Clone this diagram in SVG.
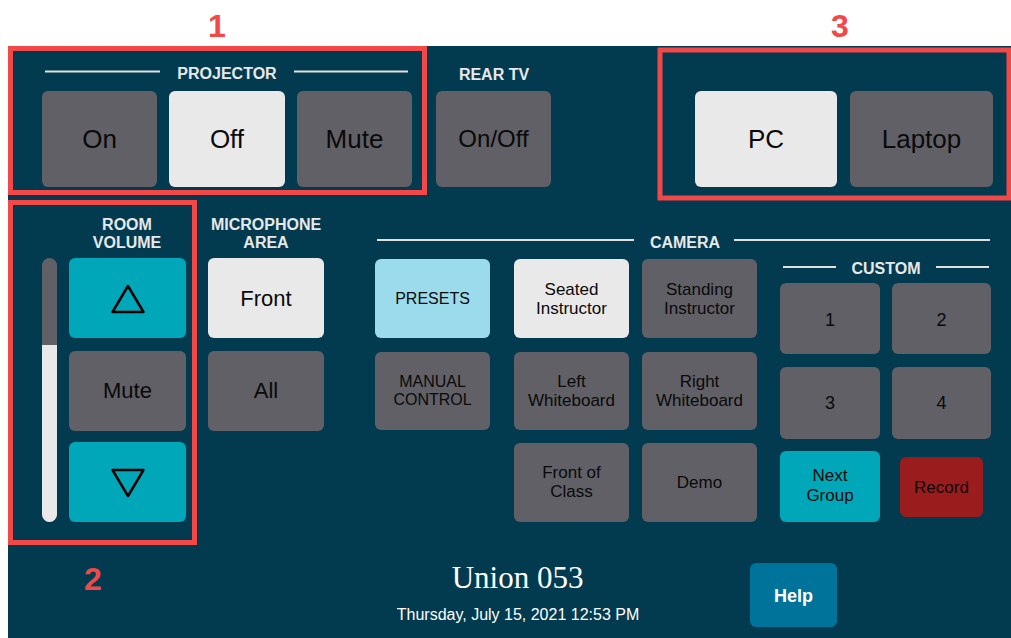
<svg xmlns="http://www.w3.org/2000/svg" width="1011" height="638" viewBox="0 0 1011 638">
<style>
.btn{fill:#606066}
.lt{fill:#e9e9e9}
.teal{fill:#00a7b8}
.hd{font-family:"Liberation Sans",Arial,sans-serif;font-weight:bold;font-size:16px;fill:#e8e8e8;text-anchor:middle}
.bt{font-family:"Liberation Sans",Arial,sans-serif;fill:#0a0a0a;text-anchor:middle}
.rule{stroke:#e0e0e0;stroke-width:2}
.red{fill:none;stroke:#f24848;stroke-width:5}
.num{font-family:"Liberation Sans",Arial,sans-serif;font-weight:bold;font-size:32px;fill:#f24848;text-anchor:middle}
.tri{fill:none;stroke:#000;stroke-width:2.5;stroke-linejoin:round}
</style>
<rect x="0" y="0" width="1011" height="638" fill="#ffffff"/>
<rect x="8" y="46" width="1003" height="592" fill="#023b50"/>

<g id="projector">
<line class="rule" x1="45" y1="71.5" x2="160" y2="71.5"/>
<line class="rule" x1="294" y1="71.5" x2="408" y2="71.5"/>
<text class="hd" x="227" y="79">PROJECTOR</text>
<rect class="btn" x="42" y="91" width="115" height="96" rx="6"/>
<text class="bt" x="99.5" y="148" font-size="26">On</text>
<rect class="lt" x="169" y="91" width="116" height="96" rx="6"/>
<text class="bt" x="227" y="148" font-size="26">Off</text>
<rect class="btn" x="297" y="91" width="115" height="96" rx="6"/>
<text class="bt" x="354.5" y="148" font-size="26">Mute</text>
</g>

<g id="reartv">
<text class="hd" x="494" y="80">REAR TV</text>
<rect class="btn" x="436" y="91" width="115" height="96" rx="6"/>
<text class="bt" x="493.5" y="147" font-size="24">On/Off</text>
</g>

<g id="source">
<rect class="lt" x="695" y="91" width="142" height="96" rx="6"/>
<text class="bt" x="766" y="148" font-size="26">PC</text>
<rect class="btn" x="850" y="91" width="143" height="96" rx="6"/>
<text class="bt" x="921.5" y="148" font-size="26">Laptop</text>
</g>

<g id="volume">
<text class="hd" x="127" y="230">ROOM</text>
<text class="hd" x="127" y="248">VOLUME</text>
<rect x="42" y="258" width="15" height="264" rx="7.5" fill="#606066"/>
<path d="M42,345 H57 V514.5 A7.5,7.5 0 0 1 42,514.5 Z" fill="#e9e9e9"/>
<rect class="teal" x="69" y="258" width="117" height="80" rx="6"/>
<path class="tri" d="M128,286 L143.5,312 L112.5,312 Z"/>
<rect class="btn" x="69" y="351" width="117" height="80" rx="6"/>
<text class="bt" x="127.5" y="398" font-size="22">Mute</text>
<rect class="teal" x="69" y="442" width="117" height="80" rx="6"/>
<path class="tri" d="M112.5,470 L143.5,470 L128,496 Z"/>
</g>

<g id="microphone">
<text class="hd" x="266" y="230">MICROPHONE</text>
<text class="hd" x="266" y="248">AREA</text>
<rect class="lt" x="208" y="258" width="116" height="80" rx="6"/>
<text class="bt" x="266" y="306" font-size="22">Front</text>
<rect class="btn" x="208" y="351" width="116" height="80" rx="6"/>
<text class="bt" x="266" y="398" font-size="22">All</text>
</g>

<g id="camera">
<line class="rule" x1="377" y1="240" x2="634" y2="240"/>
<line class="rule" x1="734" y1="240" x2="990" y2="240"/>
<text class="hd" x="685" y="248">CAMERA</text>
<rect x="375" y="259" width="115" height="79" rx="6" fill="#9cdbeb"/>
<text class="bt" x="432.5" y="304" font-size="16">PRESETS</text>
<rect class="btn" x="375" y="352" width="115" height="78" rx="6"/>
<text class="bt" x="432.5" y="387" font-size="16">MANUAL</text>
<text class="bt" x="432.5" y="405" font-size="16">CONTROL</text>
<rect class="lt" x="514" y="259" width="115" height="79" rx="6"/>
<text class="bt" x="571.5" y="295" font-size="17">Seated</text>
<text class="bt" x="571.5" y="314" font-size="17">Instructor</text>
<rect class="btn" x="642" y="259" width="115" height="79" rx="6"/>
<text class="bt" x="699.5" y="295" font-size="17">Standing</text>
<text class="bt" x="699.5" y="314" font-size="17">Instructor</text>
<rect class="btn" x="514" y="352" width="115" height="78" rx="6"/>
<text class="bt" x="571.5" y="387" font-size="17">Left</text>
<text class="bt" x="571.5" y="406" font-size="17">Whiteboard</text>
<rect class="btn" x="642" y="352" width="115" height="78" rx="6"/>
<text class="bt" x="699.5" y="387" font-size="17">Right</text>
<text class="bt" x="699.5" y="406" font-size="17">Whiteboard</text>
<rect class="btn" x="514" y="443" width="115" height="79" rx="6"/>
<text class="bt" x="571.5" y="478" font-size="17">Front of</text>
<text class="bt" x="571.5" y="497" font-size="17">Class</text>
<rect class="btn" x="642" y="443" width="115" height="79" rx="6"/>
<text class="bt" x="699.5" y="488" font-size="17">Demo</text>
</g>

<g id="custom">
<line class="rule" x1="783" y1="267" x2="836" y2="267"/>
<line class="rule" x1="936" y1="267" x2="989" y2="267"/>
<text class="hd" x="886" y="274">CUSTOM</text>
<rect class="btn" x="780" y="283" width="100" height="71" rx="6"/>
<text class="bt" x="830" y="326" font-size="18">1</text>
<rect class="btn" x="892" y="283" width="99" height="71" rx="6"/>
<text class="bt" x="941.5" y="326" font-size="18">2</text>
<rect class="btn" x="780" y="367" width="100" height="72" rx="6"/>
<text class="bt" x="830" y="409" font-size="18">3</text>
<rect class="btn" x="892" y="367" width="99" height="72" rx="6"/>
<text class="bt" x="941.5" y="409" font-size="18">4</text>
<rect class="teal" x="780" y="451" width="100" height="71" rx="6"/>
<text class="bt" x="830" y="481" font-size="17">Next</text>
<text class="bt" x="830" y="501" font-size="17">Group</text>
<rect x="900" y="457" width="83" height="60" rx="6" fill="#9b1c1c"/>
<text class="bt" x="941.5" y="493" font-size="17">Record</text>
</g>

<g id="footer">
<text x="517.5" y="588" font-family="'Liberation Serif','Times New Roman',serif" font-size="31" fill="#ffffff" text-anchor="middle">Union 053</text>
<text x="518" y="620" font-family="'Liberation Sans',Arial,sans-serif" font-size="16" fill="#ffffff" text-anchor="middle">Thursday, July 15, 2021 12:53 PM</text>
<rect x="750" y="563" width="87" height="64" rx="6" fill="#00739a"/>
<text x="793.5" y="602" font-family="'Liberation Sans',Arial,sans-serif" font-weight="bold" font-size="18" fill="#ffffff" text-anchor="middle">Help</text>
</g>

<g id="annotations">
<rect class="red" x="10.5" y="48.5" width="414" height="144"/>
<rect class="red" x="10.5" y="202.5" width="184" height="340"/>
<rect class="red" x="660" y="50" width="349" height="148"/>
<text class="num" x="217" y="37">1</text>
<text class="num" x="93" y="590">2</text>
<text class="num" x="840" y="37">3</text>
</g>
</svg>
